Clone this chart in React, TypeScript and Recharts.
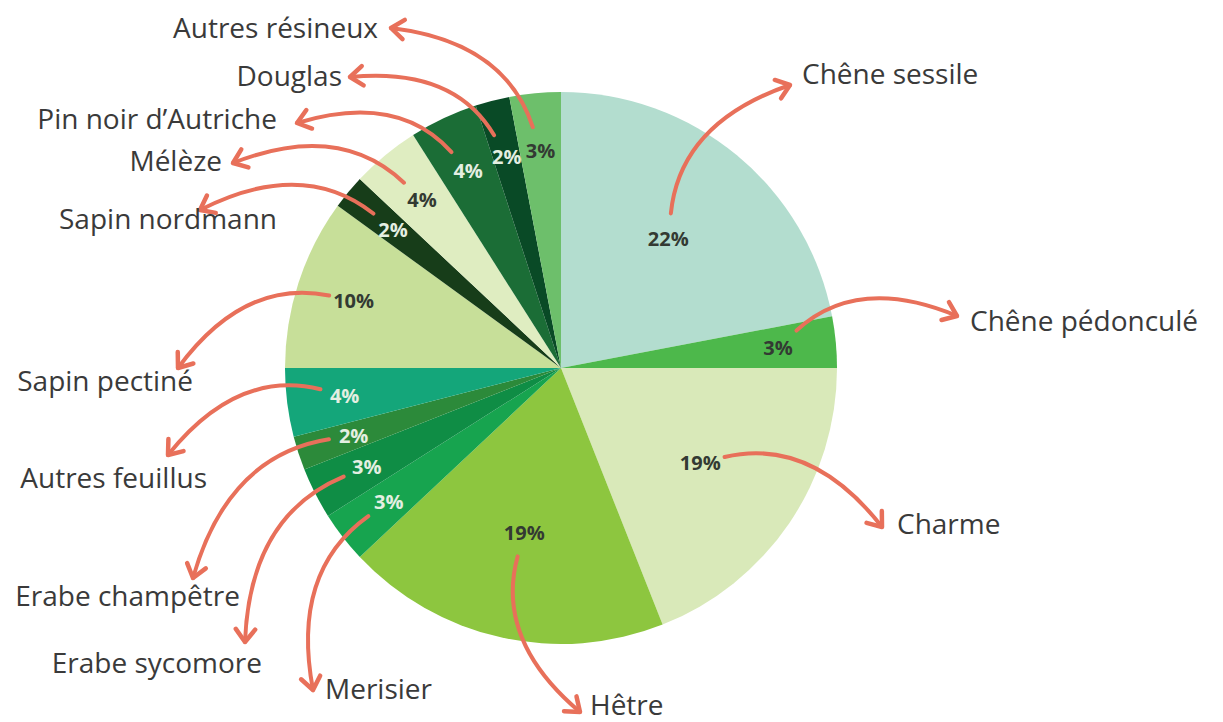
import React from 'react';
import { PieChart, Pie, Cell } from 'recharts';

/* ---------------------------------------
   DATA
---------------------------------------- */
const species = [
  'Chêne sessile',
  'Chêne pédonculé',
  'Charme',
  'Hêtre',
  'Merisier',
  'Erabe sycomore',
  'Erabe champêtre',
  'Autres feuillus',
  'Sapin pectiné',
  'Sapin nordmann',
  'Mélèze',
  'Pin noir d’Autriche',
  'Douglas',
  'Autres résineux',
];

const shares = [22, 3, 19, 19, 3, 3, 2, 4, 10, 2, 4, 4, 2, 3];

/* ---------------------------------------
   STYLE
---------------------------------------- */
const sliceColors = [
  '#b3ddcf',
  '#4db84b',
  '#d9e9b9',
  '#8dc63f',
  '#17a44f',
  '#0f8d45',
  '#2c8a3a',
  '#14a67a',
  '#c7df99',
  '#173d19',
  '#dfedc1',
  '#1b6d36',
  '#094a26',
  '#6dbf6b',
];

// light text on the dark slices
const lightLabel = [false, false, false, false, true, true, true, true, false, true, false, true, true, false];

const ARROW = '#e8705a';
const FONT = '"Open Sans", "Noto Sans", sans-serif';

// where each callout arrow ends and where its name is written
const calloutTips: [number, number][] = [
  [790, 85], [957, 316], [882, 527], [580, 712], [313, 690], [245, 642], [193, 578],
  [168, 455], [178, 368], [200, 210], [233, 163], [297, 123], [350, 77], [391, 28],
];
const calloutTexts: [number, number, 'start' | 'end'][] = [
  [802, 73, 'start'], [970, 320, 'start'], [897, 523, 'start'], [590, 704, 'start'],
  [325, 688, 'start'], [262, 662, 'end'], [240, 595, 'end'], [207, 477, 'end'],
  [193, 380, 'end'], [277, 218, 'end'], [222, 160, 'end'], [277, 118, 'end'],
  [342, 75, 'end'], [378, 27, 'end'],
];

const chartData = species.map((name, i) => ({ name, value: shares[i] }));

const RAD = Math.PI / 180;

/* ---------------------------------------
   LABEL + CALLOUT
---------------------------------------- */
function renderLabel(props: any) {
  const { cx, cy, midAngle, outerRadius, index, value } = props;
  const frac = value >= 15 ? 0.61 : 0.79;
  const lx = cx + outerRadius * frac * Math.cos(-midAngle * RAD);
  const ly = cy + outerRadius * frac * Math.sin(-midAngle * RAD);

  const [tx, ty] = calloutTips[index];
  const [nx, ny, anchor] = calloutTexts[index];

  // bulge of the curve: right-hand slices bend one way, the rest the other
  const dx = tx - lx;
  const dy = ty - ly;
  const len = Math.hypot(dx, dy);
  const clockwise = (90 - midAngle + 360) % 360;
  const sign = clockwise < 170 ? 1 : -1;
  const nX = sign * (dy / len);
  const nY = sign * (-dx / len);
  const k = 0.32 * len;
  const qx = (lx + tx) / 2 + nX * k;
  const qy = (ly + ty) / 2 + nY * k;

  const sdx = qx - lx;
  const sdy = qy - ly;
  const sl = Math.hypot(sdx, sdy);
  const off = 25;
  const sx = lx + (sdx / sl) * off;
  const sy = ly + (sdy / sl) * off;

  // arrow head
  const ang = Math.atan2(ty - qy, tx - qx);
  const h = 16;
  const a1 = ang + Math.PI - 0.65;
  const a2 = ang + Math.PI + 0.65;
  const head = `M${tx + h * Math.cos(a1)},${ty + h * Math.sin(a1)} L${tx},${ty} L${tx + h * Math.cos(a2)},${ty + h * Math.sin(a2)}`;

  return (
    <g key={`lbl-${index}`}>
      <text
        x={lx}
        y={ly}
        textAnchor="middle"
        dominantBaseline="central"
        fontFamily={FONT}
        fontWeight={700}
        fontSize={20}
        fill={lightLabel[index] ? '#e4efe2' : '#333a33'}
      >
        {`${value}%`}
      </text>
      <path
        d={`M${sx},${sy} Q${qx},${qy} ${tx},${ty}`}
        fill="none"
        stroke={ARROW}
        strokeWidth={4}
        strokeLinecap="round"
      />
      <path d={head} fill="none" stroke={ARROW} strokeWidth={4.5} strokeLinecap="round" strokeLinejoin="round" />
      <text
        x={nx}
        y={ny}
        textAnchor={anchor}
        dominantBaseline="central"
        fontFamily={FONT}
        fontSize={28}
        fill="#3a3a3a"
      >
        {species[index]}
      </text>
    </g>
  );
}

/* ---------------------------------------
   MAIN COMPONENT
---------------------------------------- */
export default function App() {
  return (
    <div style={{ position: 'absolute', left: 0, top: 0, width: 1223, height: 722, background: '#fff' }}>
      <PieChart width={1223} height={722} margin={{ top: 0, right: 0, bottom: 0, left: 0 }}>
        <Pie
          data={chartData}
          dataKey="value"
          nameKey="name"
          cx={561}
          cy={368}
          outerRadius={276}
          startAngle={90}
          endAngle={-270}
          stroke="none"
          label={renderLabel}
          labelLine={false}
          isAnimationActive={false}
        >
          {chartData.map((entry, i) => (
            <Cell key={entry.name} fill={sliceColors[i]} />
          ))}
        </Pie>
      </PieChart>
    </div>
  );
}
